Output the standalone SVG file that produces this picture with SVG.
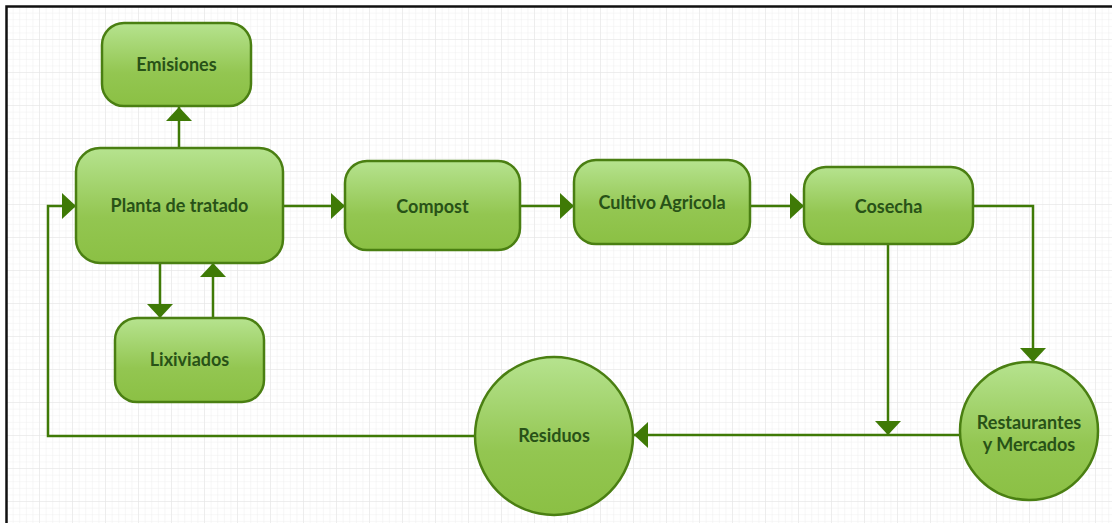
<svg xmlns="http://www.w3.org/2000/svg" width="1112" height="523" viewBox="0 0 1112 523">
<defs>
<pattern id="minor" width="6.6" height="6.6" patternUnits="userSpaceOnUse" x="7" y="7">
<path d="M6.6 0V6.6H0" fill="none" stroke="#efefef" stroke-width="1"/>
</pattern>
<pattern id="major" width="33" height="33" patternUnits="userSpaceOnUse" x="7" y="7">
<path d="M33 0V33H0" fill="none" stroke="#e4e4e4" stroke-width="1"/>
</pattern>
<linearGradient id="g" x1="0" y1="0" x2="0" y2="1">
<stop offset="0" stop-color="#b6e38f"/>
<stop offset="0.6" stop-color="#93c651"/>
<stop offset="1" stop-color="#8bc044"/>
</linearGradient>
<marker id="arr" viewBox="0 0 14 26" refX="14" refY="13" markerWidth="14" markerHeight="26" markerUnits="userSpaceOnUse" orient="auto">
<path d="M0 0L14 13L0 26Z" fill="#3f7a06"/>
</marker>
</defs>
<style>
.n{fill:url(#g);stroke:#4a7f12;stroke-width:2.5}
.t{font-family:Lato,"Open Sans",sans-serif;font-weight:bold;font-size:18px;fill:#285217;text-anchor:middle}
.c{fill:none;stroke:#3f7a06;stroke-width:2.5}
</style>
<rect width="1112" height="523" fill="#ffffff"/>
<rect x="7" y="7" width="1105" height="516" fill="url(#minor)"/>
<rect x="7" y="7" width="1105" height="516" fill="url(#major)"/>
<path d="M6.5 523V6.5H1112" fill="none" stroke="#111" stroke-width="2.5"/>
<g id="connectors">
<path class="c" d="M179 148V107" marker-end="url(#arr)"/>
<path class="c" d="M474 436H48V206H76" marker-end="url(#arr)"/>
<path class="c" d="M283 206H345" marker-end="url(#arr)"/>
<path class="c" d="M520 206H574" marker-end="url(#arr)"/>
<path class="c" d="M750 206H804" marker-end="url(#arr)"/>
<path class="c" d="M973 206H1033V362" marker-end="url(#arr)"/>
<path class="c" d="M888 244V435" marker-end="url(#arr)"/>
<path class="c" d="M960 435H634" marker-end="url(#arr)"/>
<path class="c" d="M160 263V318" marker-end="url(#arr)"/>
<path class="c" d="M213 318V263" marker-end="url(#arr)"/>
</g>
<g id="emisiones"><rect class="n" x="102" y="23" width="149" height="83" rx="22"/><text class="t" x="176.5" y="71">Emisiones</text></g>
<g id="planta"><rect class="n" x="76" y="148" width="207" height="115" rx="24"/><text class="t" x="179.5" y="212">Planta de tratado</text></g>
<g id="compost"><rect class="n" x="345" y="161" width="175" height="89" rx="22"/><text class="t" x="432.5" y="213">Compost</text></g>
<g id="cultivo"><rect class="n" x="574" y="160" width="176" height="84" rx="22"/><text class="t" x="662" y="209">Cultivo Agricola</text></g>
<g id="cosecha"><rect class="n" x="804" y="167" width="169" height="77" rx="22"/><text class="t" x="888.5" y="213">Cosecha</text></g>
<g id="lixiviados"><rect class="n" x="115" y="318" width="149" height="84" rx="22"/><text class="t" x="189.5" y="366">Lixiviados</text></g>
<g id="residuos"><circle class="n" cx="554" cy="436" r="79"/><text class="t" x="554" y="442">Residuos</text></g>
<g id="restaurantes"><circle class="n" cx="1029" cy="431" r="69"/><text class="t" x="1029" y="429">Restaurantes</text><text class="t" x="1029" y="451">y Mercados</text></g>
</svg>
